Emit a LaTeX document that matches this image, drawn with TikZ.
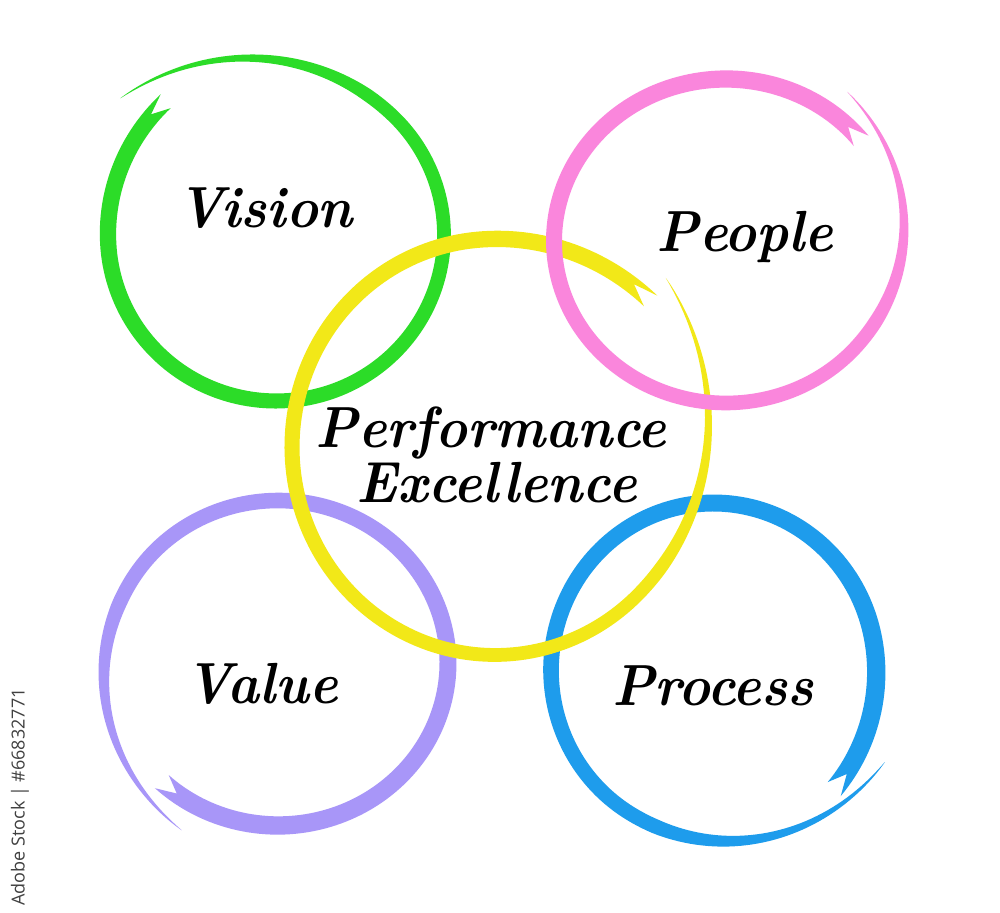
\documentclass[tikz,border=0pt]{standalone}
\usepackage{fontspec}
\newfontfamily\wmfont{Open Sans}
\definecolor{cgreen}{RGB}{44,220,40}
\definecolor{cpink}{RGB}{250,134,220}
\definecolor{cyellow}{RGB}{242,232,24}
\definecolor{cpurple}{RGB}{168,150,248}
\definecolor{cblue}{RGB}{30,156,236}
\newcommand\brushring[9]{%
  \def\bCX{#2}\def\bCY{#3}\def\bRX{#4}\def\bRY{#5}%
  \def\bA{#6}\def\bB{#7}\def\bW{#8}\def\bRt{#9}%
  \fill[#1] plot[domain=0:1,samples=200,variable=\t]
      ({\bCX+(\bRX*sc(\t)+wd(\t)/2)*cos(th(\t))},{\bCY-(\bRY*sc(\t)+wd(\t)/2)*sin(th(\t))})
    -- plot[domain=0:1,samples=200,variable=\t]
      ({\bCX+(\bRX*sc(1-\t)-wd(1-\t)/2)*cos(th(1-\t))},{\bCY-(\bRY*sc(1-\t)-wd(1-\t)/2)*sin(th(1-\t))})
    -- ({\bCX+\bRX*sc(0)*cos(th(0.018))},{\bCY-\bRY*sc(0)*sin(th(0.018))})
    -- cycle;%
}
\begin{document}
\begin{tikzpicture}[x=0.5pt,y=-0.5pt,
  declare function={
    th(\t)=\bA+(\bB-\bA)*\t;
    sc(\t)=1+(\bRt-1)*(max(0,(\t-0.75)/0.25))^2+(\bRs-1)*(max(0,1-\t/0.15))^2;
    wd(\t)=\bW*(1-0.3*\t)*(min(1,max(1-\t,0.0005)/0.22))^0.75;
  },
  lbl/.style={font=\fontsize{29}{35}\selectfont\bfseries\itshape, text=black, anchor=base, inner sep=0pt, xscale=0.93},
  wm/.style={font=\wmfont\fontsize{9}{11}\selectfont, text=black!75, rotate=90, inner sep=0pt}]
\useasboundingbox[fill=white] (0,0) rectangle (1000,913);
% rings
\def\bRs{1.04}
\brushring{cgreen}{276}{235}{168}{166}{129}{498.4}{17}{1.24}
\def\bRs{1.03}
\brushring{cblue}{713.5}{670}{162.5}{167}{-44}{332.4}{19}{1.19}
\def\bRs{1.0}
\brushring{cpurple}{278}{663}{170}{162.5}{226.7}{601.2}{19}{1.175}
\def\bRs{1.04}
\brushring{cyellow}{495}{447}{203}{208}{42.3}{404}{17}{1.17}
\def\bRs{1.0}
\brushring{cpink}{726}{241}{172}{162}{38}{412.6}{18}{1.16}
% labels
\node[lbl] (vision) at (265,228) {Vision};
\node[lbl] (people) at (745,252) {People};
\node[lbl] (perf) at (491,448) {Performance};
\node[lbl] (exc) at (497,503) {Excellence};
\node[lbl] (value) at (262,703) {Value};
\node[lbl] (process) at (713,705) {Process};
\node[wm] (stock) at (20,797) {Adobe Stock | \#66832771};
\end{tikzpicture}
\end{document}
